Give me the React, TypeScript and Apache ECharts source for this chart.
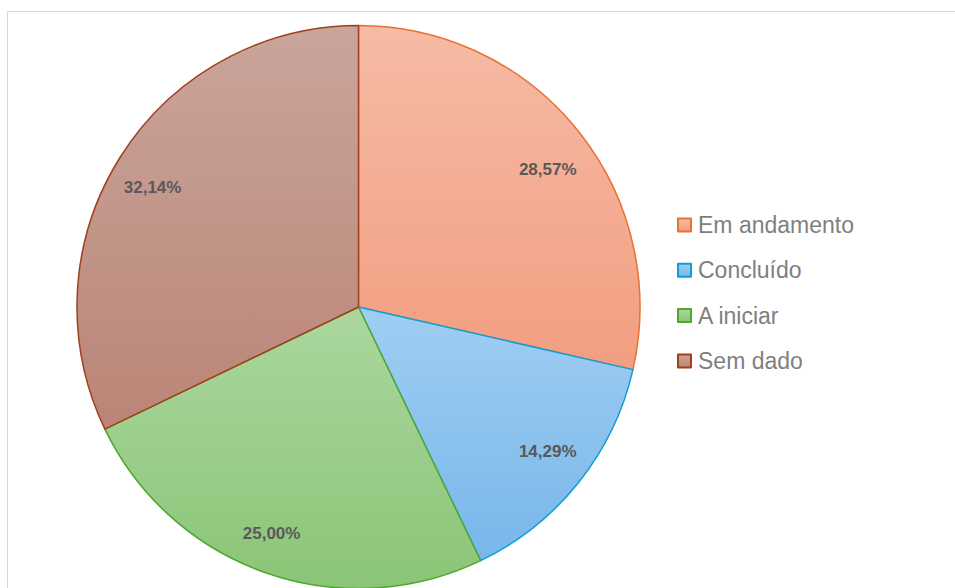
import React, { useEffect, useRef } from "react";
import * as echarts from "echarts";

const categories = ["Em andamento", "Concluído", "A iniciar", "Sem dado"];
const counts = [8, 4, 7, 9];

const topColors = ["#F6BBA5", "#A0CEF2", "#ABD79E", "#CAA59C"];
const bottomColors = ["#F29E80", "#78B6EA", "#8AC577", "#BA8576"];
const borderColors = ["#E97132", "#0F9ED5", "#4EA72E", "#A0401A"];
const labelNudges = [
  [0, 13],
  [0, -6],
  [-7, -2],
  [-1, 9],
];

const CX = 358.5;
const CY = 307;
const R = 281.5;

export default function App() {
  const ref = useRef<HTMLDivElement>(null);
  useEffect(() => {
    if (!ref.current) return;
    const chart = echarts.init(ref.current, undefined, { renderer: "svg" });
    const grad = (i: number) =>
      new echarts.graphic.LinearGradient(0, 0, 0, 1, [
        { offset: 0, color: topColors[i] },
        { offset: 1, color: bottomColors[i] },
      ]);
    const mainData = categories.map((name, i) => ({
      name,
      value: counts[i],
      itemStyle: { color: grad(i), borderColor: borderColors[i], borderWidth: 1.5 },
    }));
    const labelData = categories.map((name, i) => ({
      name,
      value: counts[i],
      label: { offset: labelNudges[i] },
    }));
    chart.setOption({
      animation: false,
      graphic: [
        {
          type: "rect",
          shape: { x: 7.5, y: 11.5, width: 1000, height: 700 },
          style: { fill: "none", stroke: "#D9D9D9", lineWidth: 1 },
          silent: true,
          z: -10,
        },
      ],
      legend: {
        orient: "vertical",
        left: 677,
        top: 213.5,
        padding: 0,
        icon: "rect",
        itemWidth: 13,
        itemHeight: 13,
        itemGap: 22.3,
        data: categories,
        textStyle: {
          fontFamily: "Liberation Sans",
          fontSize: 23,
          color: "#7F7F7F",
          lineHeight: 23,
          padding: [0, 0, 0, 2],
        },
      },
      series: [
        {
          type: "pie",
          center: [CX, CY],
          radius: [0, R],
          startAngle: 90,
          clockwise: true,
          silent: true,
          label: { show: false },
          labelLine: { show: false },
          emphasis: { disabled: true },
          data: mainData,
        },
        {
          type: "pie",
          center: [CX, CY],
          radius: [170, 308],
          startAngle: 90,
          clockwise: true,
          silent: true,
          legendHoverLink: false,
          itemStyle: { color: "transparent", borderWidth: 0 },
          emphasis: { disabled: true },
          label: {
            show: true,
            position: "inside",
            fontFamily: "Liberation Sans",
            fontWeight: "bold",
            fontSize: 17,
            color: "#595959",
            formatter: (p: any) => p.percent.toFixed(2).replace(".", ",") + "%",
          },
          labelLine: { show: false },
          data: labelData,
        },
      ],
    });
    return () => chart.dispose();
  }, []);
  return (
    <div
      ref={ref}
      style={{ position: "fixed", left: 0, top: 0, width: 955, height: 588, background: "#fff" }}
    />
  );
}
